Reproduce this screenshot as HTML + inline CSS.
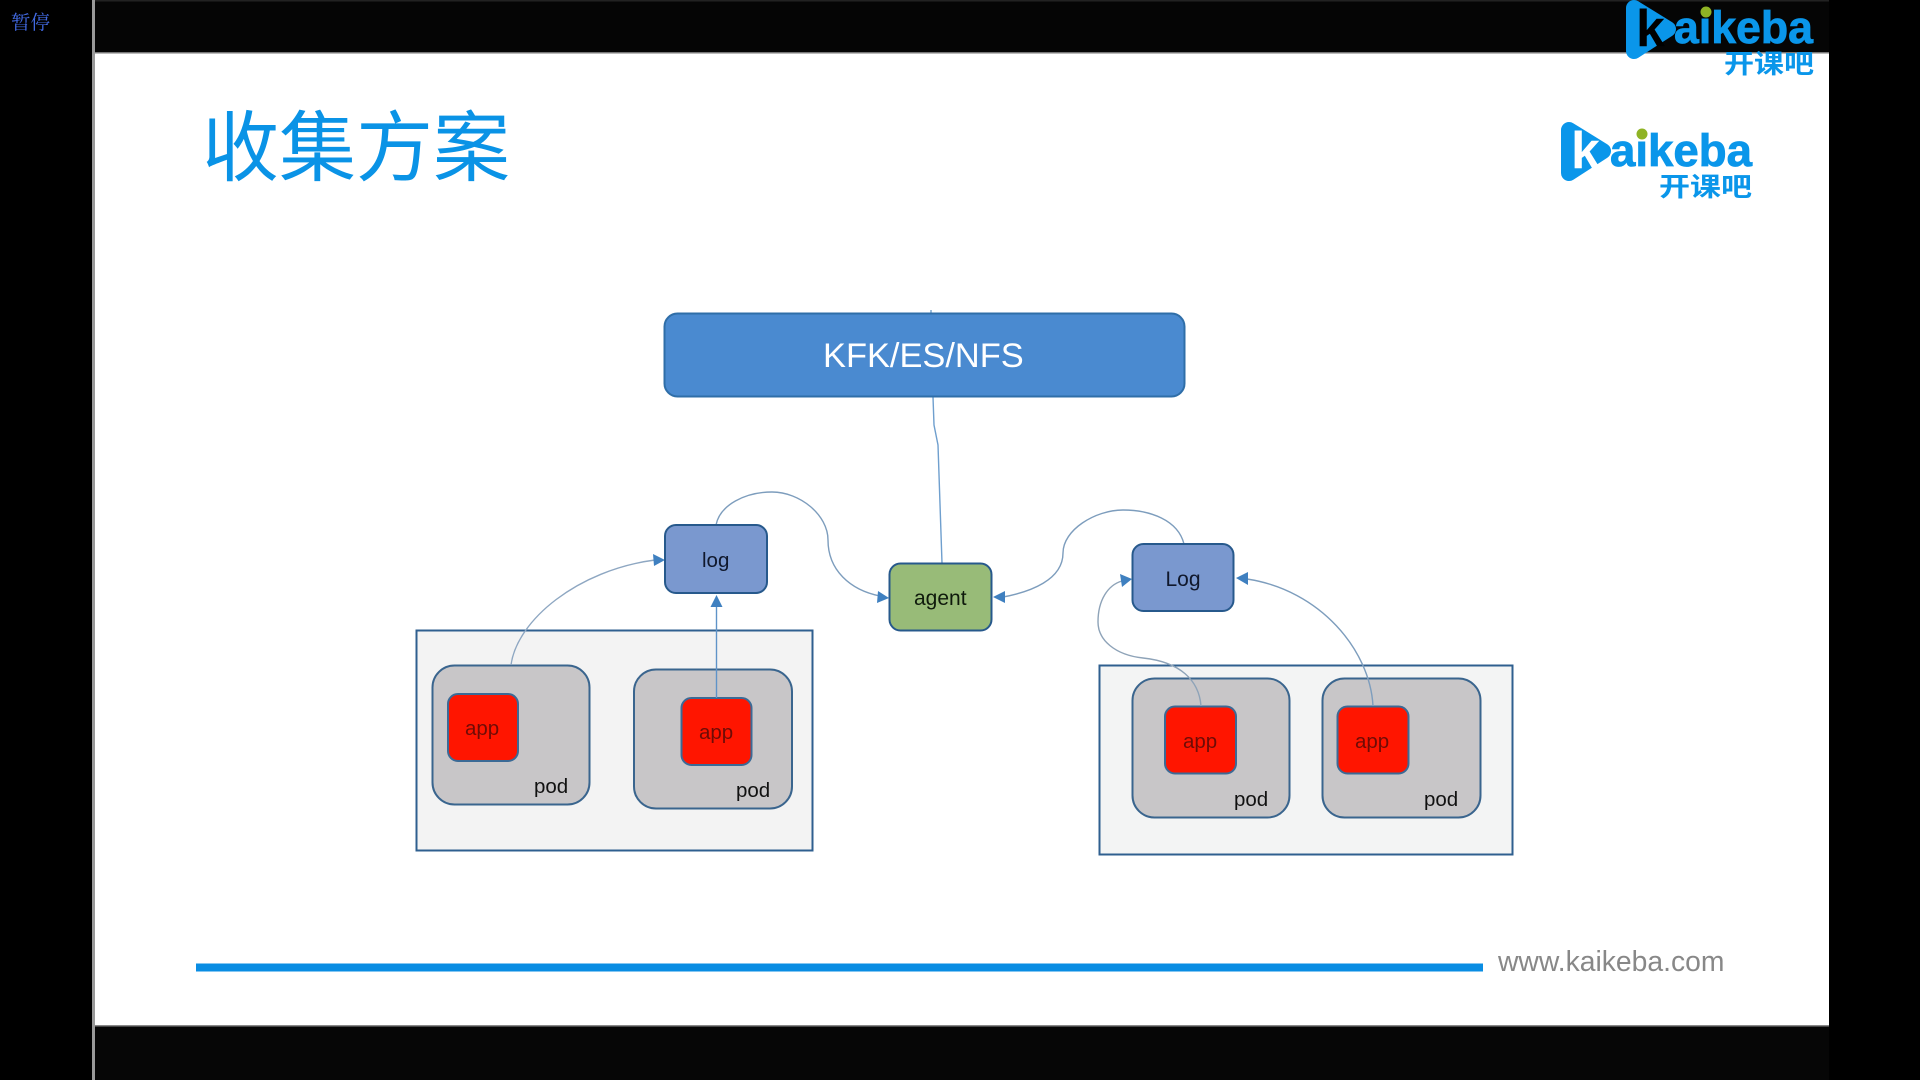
<!DOCTYPE html>
<html lang="zh">
<head>
<meta charset="utf-8">
<title>收集方案</title>
<style>
html,body{margin:0;padding:0;background:#000;width:1920px;height:1080px;overflow:hidden}
svg{display:block}
.s{font-family:"Liberation Sans",Arial,sans-serif}
</style>
</head>
<body>
<svg width="1920" height="1080" viewBox="0 0 1920 1080" xmlns="http://www.w3.org/2000/svg">
<defs>
<g id="logoShape">
<polygon points="1569,130 1603,151 1569,173" fill="#0a96ea" stroke="#0a96ea" stroke-width="16" stroke-linejoin="round"/>
</g>
</defs>

<rect width="1920" height="1080" fill="#000"/>
<rect x="95" y="53" width="1734" height="972" fill="#fff"/>
<rect x="95" y="0" width="1734" height="53" fill="#050505"/>
<rect x="95" y="0" width="1734" height="1.5" fill="#222"/>
<rect x="95" y="1025" width="1734" height="55" fill="#060606"/>
<rect x="95" y="52" width="1734" height="1.5" fill="#777"/>
<rect x="95" y="1025" width="1734" height="1.5" fill="#888"/>
<rect x="92" y="0" width="3" height="1080" fill="#999"/>

<text x="11" y="29" font-size="19.5" fill="#4169e1" font-family="'Noto Serif CJK SC','Liberation Serif',serif">暂停</text>

<text x="202" y="175" font-size="77" fill="#0a93e6" font-family="'Liberation Sans','Noto Sans CJK SC',sans-serif">收集方案</text>

<!-- lower logo -->
<use href="#logoShape"/>
<text class="s" x="1571" y="168" font-size="52" font-weight="700" fill="#fff">k</text>
<text class="s" x="1610" y="166" font-size="45" font-weight="700" fill="#0a96ea" stroke="#0a96ea" stroke-width="0.8" textLength="142" lengthAdjust="spacingAndGlyphs">aikeba</text>
<circle cx="1642" cy="134" r="5.5" fill="#8fb324"/>
<text x="1659" y="196" font-size="26" font-weight="700" fill="#0a96ea" font-family="'Liberation Sans','Noto Sans CJK SC',sans-serif" textLength="93" lengthAdjust="spacingAndGlyphs">开课吧</text>

<!-- upper logo -->
<use href="#logoShape" transform="translate(65,-122)"/>
<text class="s" x="1636" y="46" font-size="52" font-weight="700" fill="#000">k</text>
<text class="s" x="1674" y="43" font-size="45" font-weight="700" fill="#0a96ea" stroke="#0a96ea" stroke-width="0.8" textLength="139" lengthAdjust="spacingAndGlyphs">aikeba</text>
<circle cx="1706" cy="12" r="5.5" fill="#8fb324"/>
<text x="1724" y="73" font-size="26" font-weight="700" fill="#0a96ea" font-family="'Liberation Sans','Noto Sans CJK SC',sans-serif" textLength="90" lengthAdjust="spacingAndGlyphs">开课吧</text>

<!-- containers -->
<rect x="416.5" y="630.5" width="396" height="220" fill="#f3f3f3" stroke="#2f5f8f" stroke-width="2"/>
<rect x="1099.5" y="665.5" width="413" height="189" fill="#f3f4f4" stroke="#2f5f8f" stroke-width="2"/>

<!-- pods -->
<g fill="#c8c6c8" stroke="#3a658e" stroke-width="2">
<rect x="432.5" y="665.5" width="157" height="139" rx="22"/>
<rect x="634" y="669.5" width="158" height="139" rx="22"/>
<rect x="1132.5" y="678.5" width="157" height="139" rx="22"/>
<rect x="1322.5" y="678.5" width="158" height="139" rx="22"/>
</g>

<!-- apps -->
<g fill="#ff1500" stroke="#3b6a96" stroke-width="2">
<rect x="448" y="694" width="70" height="67" rx="10"/>
<rect x="681.5" y="698" width="70" height="67" rx="10"/>
<rect x="1165" y="706.5" width="71" height="67" rx="10"/>
<rect x="1337.5" y="706.5" width="71" height="67" rx="10"/>
</g>

<!-- app & pod labels -->
<g class="s" font-size="20.5" fill="#6e0c06">
<text x="465" y="735">app</text>
<text x="699" y="739">app</text>
<text x="1183" y="748">app</text>
<text x="1355" y="748">app</text>
</g>
<g class="s" font-size="20.5" fill="#111">
<text x="534" y="793">pod</text>
<text x="736" y="797">pod</text>
<text x="1234" y="806">pod</text>
<text x="1424" y="806">pod</text>
</g>

<!-- connectors -->
<g fill="none" stroke-width="1.4">
<path d="M511 665 C517 620,578 570,655 560" stroke="#8ea7c2"/>
<path d="M716.5 698 L716.5 605" stroke="#5f93c8"/>
<path d="M716 525 C720 505,745 492,772 492 C800 492,828 515,828 540 C828 570,850 590,880 596" stroke="#7d9dbd"/>
<path d="M931 310 L931 314 M933 397 L934 425 L938 445 L942 563" stroke="#6f9fce"/>
<path d="M1184 544 C1178 520,1150 510,1123 510 C1095 510,1063 530,1063 553 C1063 580,1030 592,1003 597" stroke="#7d9dbd"/>
<path d="M1201 706 C1199 680,1180 662,1143 658 C1115 655,1098 640,1098 622 C1098 600,1108 585,1122 581" stroke="#8ea3b8"/>
<path d="M1373 706 C1370 650,1320 590,1247 579" stroke="#7d9dbd"/>
</g>
<!-- arrowheads -->
<g fill="#3f80c0">
<polygon points="665,560 653,554 654,566"/>
<polygon points="716.5,595 710.5,607 722.5,607"/>
<polygon points="889,598 878,591 877,603"/>
<polygon points="993,597 1005,591 1005,603"/>
<polygon points="1132,579 1120,574 1122,587"/>
<polygon points="1236,578 1248,572 1248,585"/>
</g>

<!-- top nodes -->
<rect x="664.5" y="313.5" width="520" height="83" rx="13" fill="#4a8ad0" stroke="#2f6ea8" stroke-width="2"/>
<text class="s" x="823" y="367" font-size="34.4" fill="#fff">KFK/ES/NFS</text>

<rect x="665" y="525" width="102" height="68" rx="11" fill="#7a98cf" stroke="#27598c" stroke-width="2"/>
<text class="s" x="702" y="567" font-size="20.5" fill="#10182c">log</text>

<rect x="889.5" y="563.5" width="102" height="67" rx="11" fill="#98bb78" stroke="#27598c" stroke-width="2"/>
<text class="s" x="914" y="605" font-size="21" fill="#0f1a0c">agent</text>

<rect x="1132.5" y="544" width="101" height="67" rx="11" fill="#7a98cf" stroke="#27598c" stroke-width="2"/>
<text class="s" x="1165.5" y="586" font-size="21" fill="#10182c">Log</text>

<!-- footer -->
<rect x="196" y="963.5" width="1287" height="8" fill="#0a8de3"/>
<text class="s" x="1498" y="971" font-size="28.3" fill="#888">www.kaikeba.com</text>
</svg>
</body>
</html>
